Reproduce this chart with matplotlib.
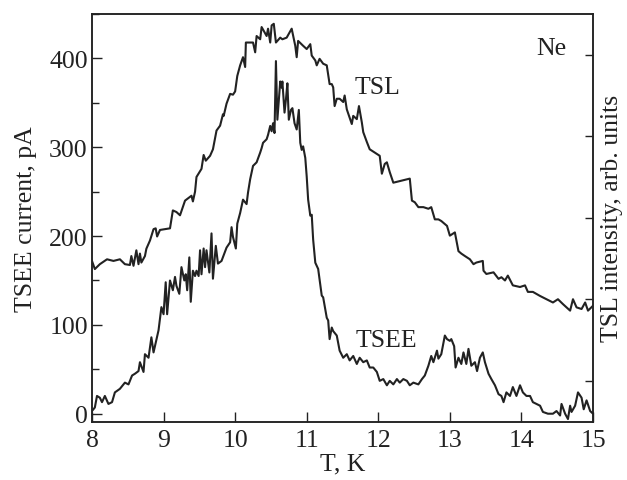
import matplotlib
matplotlib.use('Agg')
import matplotlib.pyplot as plt
from matplotlib.ticker import MultipleLocator, NullFormatter

# TSEE current, pA (left axis)
t_tsee = [8.00, 8.04, 8.07, 8.11, 8.14, 8.18, 8.23, 8.28, 8.32, 8.39,
          8.46, 8.51, 8.56, 8.60, 8.65, 8.67, 8.72, 8.74, 8.79, 8.83,
          8.86, 8.93, 8.97, 9.00, 9.03, 9.05, 9.09, 9.13, 9.16, 9.18,
          9.22, 9.25, 9.29, 9.31, 9.33, 9.36, 9.38, 9.41, 9.44, 9.46,
          9.49, 9.51, 9.53, 9.56, 9.58, 9.60, 9.64, 9.67, 9.69, 9.73,
          9.76, 9.81, 9.88, 9.93, 9.95, 9.97, 10.01, 10.03, 10.07, 10.11,
          10.16, 10.18, 10.21, 10.25, 10.30, 10.35, 10.37, 10.39, 10.44, 10.46,
          10.49, 10.51, 10.53, 10.55, 10.57, 10.59, 10.63, 10.65, 10.66, 10.69,
          10.71, 10.73, 10.75, 10.78, 10.80, 10.83, 10.86, 10.89, 10.91, 10.93,
          10.95, 10.98, 11.00, 11.02, 11.05, 11.07, 11.09, 11.12, 11.16, 11.21,
          11.23, 11.28, 11.30, 11.32, 11.35, 11.37, 11.42, 11.46, 11.51, 11.56,
          11.60, 11.65, 11.70, 11.74, 11.79, 11.84, 11.88, 11.93, 11.98, 12.02,
          12.07, 12.12, 12.16, 12.21, 12.26, 12.30, 12.35, 12.40, 12.44, 12.49,
          12.56, 12.61, 12.65, 12.70, 12.74, 12.77, 12.82, 12.84, 12.88, 12.93,
          12.96, 13.00, 13.02, 13.06, 13.08, 13.12, 13.16, 13.19, 13.23, 13.26,
          13.30, 13.35, 13.38, 13.42, 13.46, 13.49, 13.54, 13.58, 13.63, 13.68,
          13.72, 13.75, 13.79, 13.84, 13.88, 13.93, 13.98, 14.02, 14.07, 14.12,
          14.16, 14.21, 14.26, 14.30, 14.37, 14.44, 14.49, 14.54, 14.56, 14.61,
          14.65, 14.68, 14.70, 14.75, 14.79, 14.84, 14.87, 14.91, 14.96, 15.00]
tsee = [3, 7, 20, 18, 13, 20, 11, 13, 24, 28,
        35, 33, 43, 45, 48, 58, 47, 67, 63, 86,
        69, 94, 120, 112, 148, 112, 150, 139, 154, 144,
        135, 165, 150, 157, 139, 176, 126, 161, 155, 161,
        155, 184, 157, 186, 165, 184, 159, 203, 152, 189,
        169, 172, 187, 193, 210, 199, 186, 214, 226, 241,
        236, 249, 264, 279, 283, 294, 299, 305, 309, 314,
        324, 318, 327, 316, 397, 331, 374, 367, 374, 339,
        354, 372, 331, 342, 344, 327, 320, 342, 305, 297,
        301, 288, 267, 241, 223, 224, 196, 170, 163, 133,
        131, 108, 105, 84, 97, 93, 88, 71, 63, 67,
        60, 65, 56, 63, 58, 60, 52, 52, 47, 37,
        39, 32, 37, 33, 39, 35, 39, 37, 32, 35,
        33, 39, 43, 54, 65, 58, 71, 62, 67, 88,
        84, 82, 84, 76, 52, 63, 56, 69, 56, 73,
        54, 58, 48, 63, 69, 58, 45, 39, 32, 22,
        20, 13, 24, 20, 30, 20, 32, 24, 20, 20,
        13, 11, 9, 2, 0, 0, 3, -2, 11, 0,
        -6, 9, 2, 9, 24, 18, 5, 15, 3, 0]

# TSL intensity, arb. units (right axis)
t_tsl = [8.00, 8.04, 8.11, 8.21, 8.30, 8.39, 8.46, 8.53, 8.55, 8.58,
         8.62, 8.65, 8.67, 8.69, 8.74, 8.76, 8.81, 8.86, 8.89, 8.91,
         8.95, 9.09, 9.13, 9.18, 9.23, 9.30, 9.39, 9.41, 9.44, 9.46,
         9.53, 9.56, 9.59, 9.65, 9.69, 9.74, 9.79, 9.83, 9.84, 9.88,
         9.93, 9.97, 10.00, 10.03, 10.07, 10.11, 10.14, 10.15, 10.25, 10.28,
         10.30, 10.35, 10.37, 10.44, 10.46, 10.49, 10.51, 10.54, 10.57, 10.63,
         10.66, 10.72, 10.79, 10.84, 10.86, 10.88, 10.95, 11.00, 11.05, 11.07,
         11.12, 11.14, 11.18, 11.23, 11.28, 11.32, 11.35, 11.37, 11.39, 11.42,
         11.46, 11.51, 11.53, 11.56, 11.63, 11.65, 11.70, 11.73, 11.77, 11.79,
         11.84, 11.88, 11.95, 12.02, 12.05, 12.09, 12.12, 12.16, 12.21, 12.30,
         12.44, 12.47, 12.51, 12.56, 12.63, 12.70, 12.74, 12.79, 12.84, 12.88,
         12.96, 13.00, 13.07, 13.12, 13.16, 13.21, 13.28, 13.33, 13.37, 13.46,
         13.47, 13.51, 13.61, 13.68, 13.72, 13.77, 13.81, 13.88, 13.98, 14.05,
         14.09, 14.16, 14.26, 14.35, 14.44, 14.51, 14.58, 14.63, 14.68, 14.72,
         14.77, 14.84, 14.89, 14.93, 15.00]
tsl = [2.47, 2.37, 2.43, 2.49, 2.47, 2.49, 2.43, 2.42, 2.53, 2.41,
       2.60, 2.43, 2.56, 2.45, 2.53, 2.62, 2.72, 2.86, 2.87, 2.77,
       2.85, 2.87, 3.09, 3.07, 3.03, 3.21, 3.27, 3.20, 3.32, 3.50,
       3.60, 3.77, 3.70, 3.76, 3.84, 4.07, 4.13, 4.27, 4.25, 4.40,
       4.52, 4.51, 4.55, 4.74, 4.87, 4.97, 4.85, 5.15, 5.15, 5.03,
       5.23, 5.19, 5.34, 5.23, 5.32, 5.15, 5.36, 5.38, 5.15, 5.21,
       5.19, 5.21, 5.32, 5.11, 4.97, 5.17, 5.11, 5.07, 5.13, 4.99,
       4.93, 4.87, 4.95, 4.89, 4.87, 4.64, 4.64, 4.60, 4.37, 4.46,
       4.46, 4.42, 4.50, 4.33, 4.15, 4.25, 4.21, 4.37, 4.17, 4.05,
       3.93, 3.84, 3.80, 3.76, 3.54, 3.66, 3.68, 3.56, 3.43, 3.45,
       3.48, 3.21, 3.19, 3.13, 3.13, 3.11, 3.13, 2.98, 2.98, 2.96,
       2.90, 2.78, 2.82, 2.59, 2.56, 2.53, 2.49, 2.43, 2.45, 2.47,
       2.35, 2.31, 2.33, 2.25, 2.27, 2.23, 2.29, 2.17, 2.15, 2.17,
       2.09, 2.09, 2.04, 2.00, 1.96, 2.00, 1.94, 1.90, 1.86, 2.00,
       1.90, 1.88, 1.96, 1.86, 1.92]

plt.rcParams['font.family'] = ['Liberation Serif', 'DejaVu Serif']
plt.rcParams['font.size'] = 18.5
col = '#222222'

fig = plt.figure(figsize=(6.27, 4.81), dpi=100)
ax = fig.add_axes([0.1467, 0.1212, 0.7991, 0.8476])
ax2 = ax.twinx()

ax.plot(t_tsee, tsee, color=col, lw=1.5)
ax2.plot(t_tsl, tsl, color=col, lw=1.5)

ax.set_xlim(8, 15)
ax.set_ylim(-9, 450)
ax2.set_ylim(0.497, 5.5)

ax.xaxis.set_major_locator(MultipleLocator(1))
ax.yaxis.set_major_locator(MultipleLocator(100))
ax.yaxis.set_minor_locator(MultipleLocator(50))
ax2.yaxis.set_major_locator(MultipleLocator(1))
ax2.yaxis.set_major_formatter(NullFormatter())

ax.tick_params(axis='both', which='both', direction='in', colors=col, labelcolor=col, width=1.0)
ax.tick_params(axis='x', which='major', length=7, top=False, pad=5)
ax.tick_params(axis='y', which='major', length=7, right=False, pad=3)
ax.tick_params(axis='y', which='minor', length=5, right=False)
ax2.tick_params(axis='y', which='major', direction='in', length=6, width=1.0, colors=col)

for a in (ax, ax2):
    for s in a.spines.values():
        s.set_linewidth(1.1)
        s.set_color(col)

ax.set_xlabel('T, K', color=col, labelpad=1)
ax.set_ylabel('TSEE current, pA', color=col, labelpad=9)
ax2.set_ylabel('TSL intensity, arb. units', color=col, labelpad=2)

ax.text(11.99, 368, 'TSL', ha='center', va='center', color=col)
ax.text(12.11, 83, 'TSEE', ha='center', va='center', color=col)
ax.text(14.42, 412, 'Ne', ha='center', va='center', color=col)

fig.savefig('out.png', dpi=100)
